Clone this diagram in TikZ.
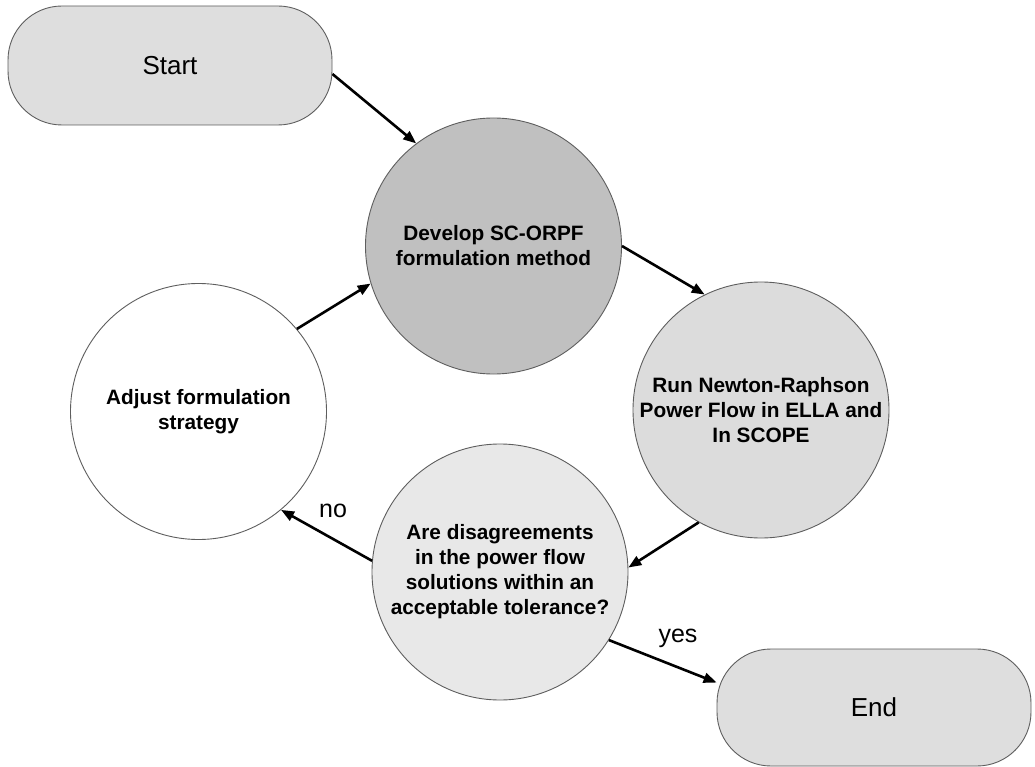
\documentclass[tikz,border=0pt]{standalone}
\usepackage{fontspec}
\setmainfont{Liberation Sans}
\usetikzlibrary{arrows.meta}
\definecolor{bordergray}{HTML}{5E5E5E}
\definecolor{termgray}{HTML}{DEDEDE}
\definecolor{devgray}{HTML}{C0C0C0}
\definecolor{rungray}{HTML}{DCDCDC}
\definecolor{aregray}{HTML}{E8E8E8}
\begin{document}
\begin{tikzpicture}[x=1pt,y=-1pt,
  term/.style={draw=bordergray, line width=0.9pt, fill=termgray, rounded corners=54pt,
    inner sep=0pt, font=\fontsize{26}{30}\selectfont},
  proc/.style={circle, draw=bordergray, line width=0.9pt, minimum size=256pt, inner sep=0pt,
    align=center, font=\bfseries\fontsize{20.8}{25}\selectfont},
  arr/.style={line width=2.6pt, -{Triangle[length=13pt,width=10pt]}},
  lbl/.style={font=\fontsize{25}{30}\selectfont, inner sep=0pt}]
\useasboundingbox (0,0) rectangle (1035,767);
\node[term, minimum width=324pt, minimum height=119pt] (start) at (170,65.5) {Start};
\node[proc, fill=devgray] (dev) at (493.5,246) {Develop SC-ORPF\\formulation method};
\node[proc, fill=rungray] (run) at (761,410) {Run Newton-Raphson\\Power Flow in ELLA and\\In SCOPE};
\node[proc, fill=aregray] (are) at (500,572) {Are disagreements\\in the power flow\\solutions within an\\acceptable tolerance?};
\node[proc, fill=white] (adj) at (198.5,411.5) {Adjust formulation\\strategy};
\node[term, minimum width=314pt, minimum height=117pt] (end) at (874,707.5) {End};
\draw[arr] (start.-3.5) -- (dev.127);
\draw[arr] (dev.0) -- (run.116);
\draw[arr] (run.241) -- (are.2);
\draw[arr] (are.175) -- (adj.-50);
\draw[arr] (adj.40) -- (dev.197);
\draw[arr] (are.-32.5) -- (end.171);
\node[lbl] (no) at (333,511) {no};
\node[lbl] (yes) at (678,638) {yes};
\end{tikzpicture}
\end{document}
